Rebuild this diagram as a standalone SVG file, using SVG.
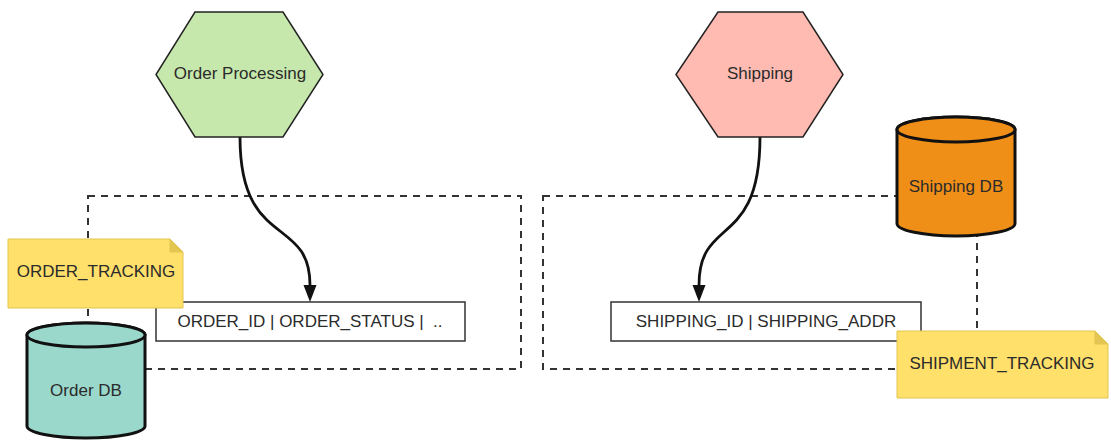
<svg xmlns="http://www.w3.org/2000/svg" width="1111" height="440" viewBox="0 0 1111 440">
<style>
text{font-family:"Liberation Sans",Arial,sans-serif;font-size:17px;fill:#2b2b2b;text-anchor:middle;dominant-baseline:central}
.dash{fill:none;stroke:#333;stroke-width:2;stroke-dasharray:7 6}
.hex{stroke:#222;stroke-width:1.5}
.tbl{fill:#fff;stroke:#333;stroke-width:1.5}
.cyl{stroke:#111;stroke-width:3}
.note{fill:#FFE06A;stroke:#E2C550;stroke-width:1}
.fold{fill:#E3C552;stroke:#E2C550;stroke-width:1}
.edge{fill:none;stroke:#111;stroke-width:2.8}
</style>
<defs>
<marker id="arr" markerUnits="userSpaceOnUse" markerWidth="18" markerHeight="14" refX="0" refY="6.5" orient="auto">
<path d="M0,0 L17,6.5 L0,13 Z" fill="#111"/>
</marker>
</defs>

<g id="boundaries">
<rect class="dash" x="88" y="196" width="433" height="173"/>
<rect class="dash" x="543" y="196" width="434" height="173"/>
</g>

<g id="table-order">
<rect class="tbl" x="156" y="302" width="309" height="39"/>
<text x="310" y="321" style="white-space:pre">ORDER_ID | ORDER_STATUS |  ..</text>
</g>

<g id="table-shipping">
<rect class="tbl" x="611" y="302" width="310" height="39"/>
<text x="766" y="321">SHIPPING_ID | SHIPPING_ADDR</text>
</g>

<g id="connectors">
<path class="edge" d="M240,137 C240,250 310,215 310,285" marker-end="url(#arr)"/>
<path class="edge" d="M760,137 C760,250 699,215 699,285" marker-end="url(#arr)"/>
</g>

<g id="order-processing">
<polygon class="hex" fill="#C7E8AC" points="195,12 283,12 323,74.5 283,137 195,137 156,74.5"/>
<text x="240" y="73">Order Processing</text>
</g>

<g id="shipping">
<polygon class="hex" fill="#FFBBB1" points="718,12 803,12 843,74.5 803,137 718,137 676,74.5"/>
<text x="760" y="73">Shipping</text>
</g>

<g id="order-db">
<path class="cyl" fill="#9AD8CC" d="M27,335 V426 A59,12 0 0 0 145,426 V335 A59,12 0 0 0 27,335 Z"/>
<ellipse class="cyl" fill="#9AD8CC" cx="86" cy="335" rx="59" ry="12"/>
<text x="86" y="390">Order DB</text>
</g>

<g id="shipping-db">
<path class="cyl" fill="#F08F18" d="M897,129.5 V223.5 A59,12.5 0 0 0 1015,223.5 V129.5 A59,12.5 0 0 0 897,129.5 Z"/>
<ellipse class="cyl" fill="#F08F18" cx="956" cy="129.5" rx="59" ry="12.5"/>
<text x="956" y="186">Shipping DB</text>
</g>

<g id="order-tracking">
<path class="note" d="M8,239 H170 L183,252 V308 H8 Z"/>
<path class="fold" d="M170,239 V252 H183 Z"/>
<text x="96" y="271">ORDER_TRACKING</text>
</g>

<g id="shipment-tracking">
<path class="note" d="M897,331 H1095 L1108,344 V398 H897 Z"/>
<path class="fold" d="M1095,331 V344 H1108 Z"/>
<text x="1002" y="363">SHIPMENT_TRACKING</text>
</g>
</svg>
